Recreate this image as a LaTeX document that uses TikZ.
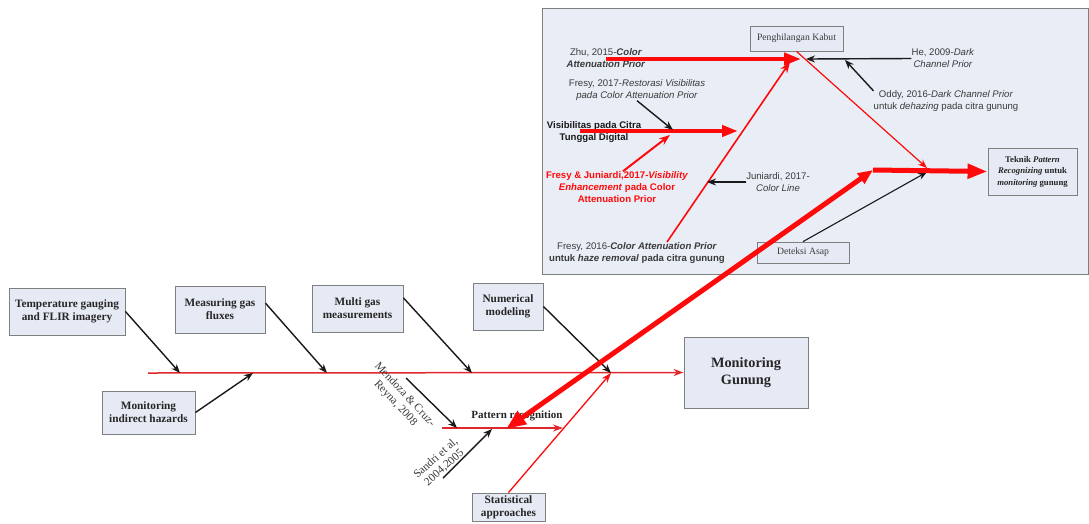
\documentclass[tikz,border=0pt]{standalone}
\usepackage{fontspec}
\setmainfont{Liberation Serif}
\newfontfamily\panelsans{Liberation Sans}
\usetikzlibrary{arrows.meta,calc}
\definecolor{boxfill}{HTML}{E6EAF4}
\definecolor{panelfill}{HTML}{E9EDF6}
\definecolor{boxline}{HTML}{7F7F7F}
\definecolor{hot}{HTML}{FF0A0A}
\definecolor{spine}{HTML}{E0282C}
\definecolor{ink}{HTML}{3A3A3A}
\begin{document}
\begin{tikzpicture}[x=1pt,y=-1pt,
  cause/.style={draw=boxline, line width=0.9pt, fill=boxfill, inner sep=0pt, align=center,
    font=\fontsize{11.3}{13}\selectfont\bfseries, text=black!85},
  panelbox/.style={draw=boxline, line width=0.8pt, fill=boxfill, inner sep=0pt, align=center,
    font=\fontsize{9.7}{12}\selectfont, text=ink},
  note/.style={inner sep=0pt, align=center, font=\panelsans\fontsize{9.6}{12}\selectfont, text=ink},
  rotnote/.style={inner sep=0pt, align=center, font=\fontsize{11.4}{12.5}\selectfont, text=ink},
  feed/.style={draw=black!90, line width=1.4pt, -{Stealth[length=9pt,width=7pt]}},
  bone/.style={draw=spine, line width=1.5pt},
  boldred/.style={draw=hot, line width=4pt, -{Triangle[length=17pt,width=12pt]}},
  thinred/.style={draw=hot, line width=1.2pt, -{Stealth[length=9pt,width=7pt]}},
]
\useasboundingbox (0,0) rectangle (1089,523);
\fill[white] (0,0) rectangle (1089,523);

% ---------- detail panel ----------
\draw[boxline, line width=0.9pt, fill=panelfill] (542,8) rectangle (1088,274);

\node[panelbox, minimum width=93pt, minimum height=25pt] (kabut) at (796.5,38.5) {Penghilangan Kabut};
\node[panelbox, minimum width=92pt, minimum height=21pt] (asap) at (803,252.5) {Deteksi Asap};
\node[cause, minimum width=89pt, minimum height=47pt, font=\fontsize{8.7}{11.5}\selectfont\bfseries]
  (teknik) at (1032.5,171.5) {Teknik \textit{Pattern}\\\textit{Recognizing} untuk\\\textit{monitoring} gunung};

\node[note] (zhu) at (606,58) {Zhu, 2015-\textbf{\textit{Color}}\\\textbf{\textit{Attenuation Prior}}};
\node[note] (fresy17) at (637,90) {Fresy, 2017-\textit{Restorasi Visibilitas}\\\textit{pada Color Attenuation Prior}};
\node[note, font=\panelsans\fontsize{9.6}{12.5}\selectfont\bfseries, text=black!90] (visib) at (594,132) {Visibilitas pada Citra\\Tunggal Digital};
\node[note, font=\panelsans\fontsize{9.6}{12}\selectfont\bfseries, text=hot] (fj) at (617,187)
  {Fresy \& Juniardi,2017-\textit{Visibility}\\\textit{Enhancement} pada Color\\Attenuation Prior};
\node[note] (jun) at (778,182) {Juniardi, 2017-\\\textit{Color Line}};
\node[note] (fresy16) at (637,253) {Fresy, 2016-\textbf{\textit{Color Attenuation Prior}}\\\textbf{untuk \textit{haze removal} pada citra gunung}};
\node[note] (he) at (943,58.5) {He, 2009-\textit{Dark}\\\textit{Channel Prior}};
\node[note] (oddy) at (946,101.5) {Oddy, 2016-\textit{Dark Channel Prior}\\untuk \textit{dehazing} pada citra gunung};

\coordinate (kj) at (806,59);
\coordinate (kjA) at (790,62);
\coordinate (f16top) at (667,242);
\coordinate (vj) at (738,131);
\coordinate (vjB) at (673,130);
\coordinate (vjR) at (670,135);
\coordinate (junEnd) at (707,182);
\coordinate (oddyEnd) at (845,60);
\coordinate (tj) at (927,168);
\coordinate (tjB) at (927,172);
\coordinate (bend) at (873,170);

\draw[boldred] ($(zhu.center)+(0,1)$) -- ($(kj)+(-5,0)$);
\draw[hot, line width=1.6pt, -{Stealth[length=11pt,width=8pt]}] (f16top) -- (kjA);
\draw[boldred, -{Triangle[length=16pt,width=11pt]}] ($(visib.center)+(-14,-1)$) -- (vj);
\draw[feed] (fresy17.south) -- (vjB);
\draw[hot, line width=2pt, -{Stealth[length=11pt,width=8pt]}] ($(fj.north)+(6,0)$) -- (vjR);
\draw[feed] (jun.west) -- (junEnd);
\draw[feed] (he.west) -- (kj);
\draw[feed] (oddy.north west) -- (oddyEnd);
\draw[thinred] (kabut.south) -- (tj);
\draw[feed, line width=1.1pt] (asap.north) -- (tjB);

% ---------- fishbone ----------
\node[cause, minimum width=116pt, minimum height=47pt] (temp) at (67,311.5) {Temperature gauging\\and FLIR imagery};
\node[cause, minimum width=90pt, minimum height=47pt] (meas) at (220,309.5) {Measuring gas\\fluxes};
\node[cause, minimum width=91pt, minimum height=47pt] (multi) at (357.5,308.5) {Multi gas\\measurements};
\node[cause, minimum width=70pt, minimum height=47pt] (numer) at (508,306.5) {Numerical\\modeling};
\node[cause, minimum width=93pt, minimum height=43pt] (indir) at (148.5,412.5) {Monitoring\\indirect hazards};
\node[cause, minimum width=73pt, minimum height=28pt] (stat) at (508.5,507) {Statistical\\approaches};
\node[cause, minimum width=124pt, minimum height=71pt, font=\fontsize{14.3}{17}\selectfont\bfseries] (mon) at (746,372.5) {Monitoring\\Gunung};

\coordinate (spineL) at (148,373);
\coordinate (j1) at (180,373);
\coordinate (j2) at (253,373);
\coordinate (j3) at (327,373);
\coordinate (j4) at (472,373);
\coordinate (j5) at (611,373);
\coordinate (prL) at (442,428);
\coordinate (prR) at (563,428);
\coordinate (prA) at (457,428);
\coordinate (prB) at (492,429);
\coordinate (prT) at (506,429);
\coordinate (men) at (406,378);
\coordinate (san) at (443,478);

\draw[bone, -{Stealth[length=10pt,width=7pt]}] (spineL) -- (mon.west);
\draw[bone, -{Stealth[length=10pt,width=7pt]}] (prL) -- (prR);
\draw[hot, line width=1.3pt, -{Stealth[length=10pt,width=7pt]}] (stat.north) -- (j5);

\draw[feed] (temp.east) -- (j1);
\draw[feed] (indir.east) -- (j2);
\draw[feed] (meas.8) -- (j3);
\draw[feed] (multi.13) -- (j4);
\draw[feed] (numer.east) -- (j5);
\draw[feed] (men) -- (prA);
\draw[feed] (san) -- (prB);

\node[rotnote, rotate=-47] (mendoza) at (400,399) {Mendoza \& Cruz-\\Reyna, 2008};
\node[rotnote, rotate=42] (sandri) at (440,463) {Sandri et al,\\2004,2005};
\node[inner sep=0pt, font=\fontsize{11}{13}\selectfont\bfseries, text=black!85] (patt) at (517,416) {Pattern recognition};

% link between the two parts
\draw[hot, line width=5pt, {Triangle[length=20pt,width=15pt]}-{Triangle[length=15pt,width=12pt]}] (prT) -- (bend);
\draw[hot, line width=5pt, -{Triangle[length=20pt,width=14pt]}] (bend) -- (teknik.west);
\end{tikzpicture}
\end{document}
